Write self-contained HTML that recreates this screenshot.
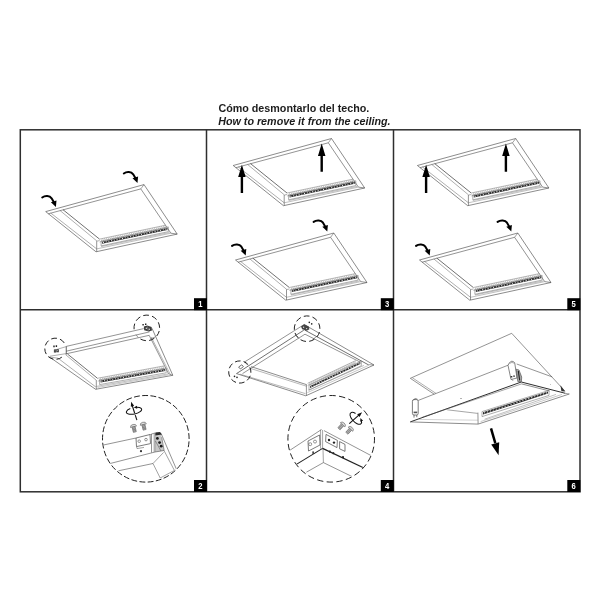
<!DOCTYPE html>
<html><head><meta charset="utf-8"><title>Cómo desmontarlo del techo</title>
<style>
html,body{margin:0;padding:0;background:#fff;}
body{width:600px;height:600px;overflow:hidden;position:relative;font-family:"Liberation Sans",sans-serif;}
svg{position:absolute;left:0;top:0;}
.t{font-family:"Liberation Sans",sans-serif;font-weight:bold;font-size:10.74px;fill:#1c1c1c;}
.n{font-family:"Liberation Sans",sans-serif;font-weight:bold;font-size:8.7px;fill:#fff;text-anchor:middle;}
</style></head><body>
<svg width="600" height="600" viewBox="0 0 600 600">
<defs><filter id="gs" x="-5%" y="-50%" width="110%" height="200%"><feOffset dx="0" dy="0"/></filter></defs>
<rect width="600" height="600" fill="#fff"/>
<g filter="url(#gs)"><text class="t" x="218.4" y="112.2">Cómo desmontarlo del techo.</text>
<text class="t" x="218.2" y="125.2" font-style="italic">How to remove it from the ceiling.</text></g>

<g stroke="#2e2e2e" stroke-width="1.5" fill="none">
<rect x="20.3" y="129.8" width="559.7" height="362"/>
<path d="M206.5,129.8V491.8M393.5,129.8V491.8M20.3,309.8H580"/>
</g>
<rect x="194" y="298.2" width="13" height="12" fill="#000"/>
<g filter="url(#gs)"><text class="n" transform="translate(200.4,307.3) scale(0.88,1)">1</text></g>
<rect x="380.8" y="298.2" width="13" height="12" fill="#000"/>
<g filter="url(#gs)"><text class="n" transform="translate(387.2,307.3) scale(0.88,1)">3</text></g>
<rect x="567.3" y="298.2" width="13" height="12" fill="#000"/>
<g filter="url(#gs)"><text class="n" transform="translate(573.6999999999999,307.3) scale(0.88,1)">5</text></g>
<rect x="194" y="480" width="13" height="12" fill="#000"/>
<g filter="url(#gs)"><text class="n" transform="translate(200.4,489.1) scale(0.88,1)">2</text></g>
<rect x="380.8" y="480" width="13" height="12" fill="#000"/>
<g filter="url(#gs)"><text class="n" transform="translate(387.2,489.1) scale(0.88,1)">4</text></g>
<rect x="567.3" y="480" width="13" height="12" fill="#000"/>
<g filter="url(#gs)"><text class="n" transform="translate(573.6999999999999,489.1) scale(0.88,1)">6</text></g>
<g transform="translate(45.7,211.6)">
<path d="M0.00,0.00 L98.30,-27.00 L131.50,22.50" fill="none" stroke="#505050" stroke-width="0.66" />
<path d="M0.00,0.00 L50.30,40.20" fill="none" stroke="#505050" stroke-width="0.66" />
<path d="M50.30,40.20 L131.50,22.50" fill="none" stroke="#505050" stroke-width="0.66" />
<path d="M2.60,2.20 L95.10,-22.70" fill="none" stroke="#505050" stroke-width="0.616" />
<path d="M98.30,-27.00 L95.10,-22.70" fill="none" stroke="#505050" stroke-width="0.528" />
<path d="M95.10,-22.70 L125.20,21.60 L131.50,22.50" fill="none" stroke="#505050" stroke-width="0.616" />
<path d="M5.00,1.40 L51.00,37.30" fill="none" stroke="#666" stroke-width="0.528" />
<path d="M51.00,37.30 L125.20,21.60" fill="none" stroke="#888" stroke-width="0.528" />
<path d="M14.30,-1.10 L51.30,29.50" fill="none" stroke="#666" stroke-width="0.528" />
<path d="M17.30,-1.90 L53.80,27.50" fill="none" stroke="#333" stroke-width="0.704" />
<path d="M51.00,29.50 L51.00,40.00" fill="none" stroke="#505050" stroke-width="0.616" />
<path d="M53.80,27.50 L119.90,13.60" fill="none" stroke="#777" stroke-width="0.528" />
<path d="M53.80,30.50 L119.90,16.60" fill="none" stroke="#888" stroke-width="0.484" />
<path d="M54.94,30.26 L56.92,26.84" fill="none" stroke="#999" stroke-width="0.528" />
<path d="M57.22,29.78 L59.20,26.36" fill="none" stroke="#999" stroke-width="0.528" />
<path d="M59.50,29.30 L61.48,25.88" fill="none" stroke="#999" stroke-width="0.528" />
<path d="M61.78,28.82 L63.76,25.41" fill="none" stroke="#999" stroke-width="0.528" />
<path d="M64.06,28.34 L66.04,24.93" fill="none" stroke="#999" stroke-width="0.528" />
<path d="M66.34,27.86 L68.32,24.45" fill="none" stroke="#999" stroke-width="0.528" />
<path d="M68.62,27.38 L70.60,23.97" fill="none" stroke="#999" stroke-width="0.528" />
<path d="M70.89,26.91 L72.88,23.49" fill="none" stroke="#999" stroke-width="0.528" />
<path d="M73.17,26.43 L75.16,23.01" fill="none" stroke="#999" stroke-width="0.528" />
<path d="M75.45,25.95 L77.44,22.53" fill="none" stroke="#999" stroke-width="0.528" />
<path d="M77.73,25.47 L79.72,22.05" fill="none" stroke="#999" stroke-width="0.528" />
<path d="M80.01,24.99 L82.00,21.57" fill="none" stroke="#999" stroke-width="0.528" />
<path d="M82.29,24.51 L84.27,21.09" fill="none" stroke="#999" stroke-width="0.528" />
<path d="M84.57,24.03 L86.55,20.61" fill="none" stroke="#999" stroke-width="0.528" />
<path d="M86.85,23.55 L88.83,20.13" fill="none" stroke="#999" stroke-width="0.528" />
<path d="M89.13,23.07 L91.11,19.65" fill="none" stroke="#999" stroke-width="0.528" />
<path d="M91.41,22.59 L93.39,19.17" fill="none" stroke="#999" stroke-width="0.528" />
<path d="M93.69,22.11 L95.67,18.70" fill="none" stroke="#999" stroke-width="0.528" />
<path d="M95.97,21.63 L97.95,18.22" fill="none" stroke="#999" stroke-width="0.528" />
<path d="M98.25,21.15 L100.23,17.74" fill="none" stroke="#999" stroke-width="0.528" />
<path d="M100.53,20.67 L102.51,17.26" fill="none" stroke="#999" stroke-width="0.528" />
<path d="M102.81,20.19 L104.79,16.78" fill="none" stroke="#999" stroke-width="0.528" />
<path d="M105.08,19.72 L107.07,16.30" fill="none" stroke="#999" stroke-width="0.528" />
<path d="M107.36,19.24 L109.35,15.82" fill="none" stroke="#999" stroke-width="0.528" />
<path d="M109.64,18.76 L111.63,15.34" fill="none" stroke="#999" stroke-width="0.528" />
<path d="M111.92,18.28 L113.91,14.86" fill="none" stroke="#999" stroke-width="0.528" />
<path d="M114.20,17.80 L116.18,14.38" fill="none" stroke="#999" stroke-width="0.528" />
<path d="M116.48,17.32 L118.46,13.90" fill="none" stroke="#999" stroke-width="0.528" />
<path d="M118.76,16.84 L119.90,13.60" fill="none" stroke="#999" stroke-width="0.528" />
<path d="M56.40,30.10 L121.60,16.30 L121.60,18.30 L56.40,32.10Z" fill="#2a2a2a" stroke="none" stroke-width="0"/>
<circle cx="57.76" cy="30.81" r="0.6" fill="#e8e8e8"/>
<circle cx="60.47" cy="30.24" r="0.6" fill="#e8e8e8"/>
<circle cx="63.19" cy="29.66" r="0.6" fill="#e8e8e8"/>
<circle cx="65.91" cy="29.09" r="0.6" fill="#e8e8e8"/>
<circle cx="68.62" cy="28.51" r="0.6" fill="#e8e8e8"/>
<circle cx="71.34" cy="27.94" r="0.6" fill="#e8e8e8"/>
<circle cx="74.06" cy="27.36" r="0.6" fill="#e8e8e8"/>
<circle cx="76.77" cy="26.79" r="0.6" fill="#e8e8e8"/>
<circle cx="79.49" cy="26.21" r="0.6" fill="#e8e8e8"/>
<circle cx="82.21" cy="25.64" r="0.6" fill="#e8e8e8"/>
<circle cx="84.92" cy="25.06" r="0.6" fill="#e8e8e8"/>
<circle cx="87.64" cy="24.49" r="0.6" fill="#e8e8e8"/>
<circle cx="90.36" cy="23.91" r="0.6" fill="#e8e8e8"/>
<circle cx="93.07" cy="23.34" r="0.6" fill="#e8e8e8"/>
<circle cx="95.79" cy="22.76" r="0.6" fill="#e8e8e8"/>
<circle cx="98.51" cy="22.19" r="0.6" fill="#e8e8e8"/>
<circle cx="101.22" cy="21.61" r="0.6" fill="#e8e8e8"/>
<circle cx="103.94" cy="21.04" r="0.6" fill="#e8e8e8"/>
<circle cx="106.66" cy="20.46" r="0.6" fill="#e8e8e8"/>
<circle cx="109.38" cy="19.89" r="0.6" fill="#e8e8e8"/>
<circle cx="112.09" cy="19.31" r="0.6" fill="#e8e8e8"/>
<circle cx="114.81" cy="18.74" r="0.6" fill="#e8e8e8"/>
<circle cx="117.52" cy="18.16" r="0.6" fill="#e8e8e8"/>
<circle cx="120.24" cy="17.59" r="0.6" fill="#e8e8e8"/>
<path d="M55.40,29.50 L122.60,15.30 L122.60,20.10 L55.40,34.30 L55.40,29.50" fill="none" stroke="#666" stroke-width="0.528" />
<path d="M51.30,29.50 L54.00,29.00" fill="none" stroke="#666" stroke-width="0.528" />
<path d="M55.50,35.00 L123.80,20.90" fill="none" stroke="#888" stroke-width="0.528" />
</g>
<g transform="translate(55.900000000000006,207.1)">
<path d="M-13.7,-9.6 C-10.8,-11.7 -6.2,-11.5 -4.3,-8.8 L-2.4,-5.6" fill="none" stroke="#000" stroke-width="2" stroke-linecap="round"/>
<path d="M0,0 L-5.0,-4.8 L0.6,-6.5Z" fill="#000"/>
</g>
<g transform="translate(137.5,183.1)">
<path d="M-13.7,-9.6 C-10.8,-11.7 -6.2,-11.5 -4.3,-8.8 L-2.4,-5.6" fill="none" stroke="#000" stroke-width="2" stroke-linecap="round"/>
<path d="M0,0 L-5.0,-4.8 L0.6,-6.5Z" fill="#000"/>
</g>
<g transform="translate(233.2,165.5)">
<path d="M0.00,0.00 L98.30,-27.00 L131.50,22.50" fill="none" stroke="#505050" stroke-width="0.66" />
<path d="M0.00,0.00 L50.30,40.20" fill="none" stroke="#505050" stroke-width="0.66" />
<path d="M50.30,40.20 L131.50,22.50" fill="none" stroke="#505050" stroke-width="0.66" />
<path d="M2.60,2.20 L95.10,-22.70" fill="none" stroke="#505050" stroke-width="0.616" />
<path d="M98.30,-27.00 L95.10,-22.70" fill="none" stroke="#505050" stroke-width="0.528" />
<path d="M95.10,-22.70 L125.20,21.60 L131.50,22.50" fill="none" stroke="#505050" stroke-width="0.616" />
<path d="M5.00,1.40 L51.00,37.30" fill="none" stroke="#666" stroke-width="0.528" />
<path d="M51.00,37.30 L125.20,21.60" fill="none" stroke="#888" stroke-width="0.528" />
<path d="M14.30,-1.10 L51.30,29.50" fill="none" stroke="#666" stroke-width="0.528" />
<path d="M17.30,-1.90 L53.80,27.50" fill="none" stroke="#333" stroke-width="0.704" />
<path d="M51.00,29.50 L51.00,40.00" fill="none" stroke="#505050" stroke-width="0.616" />
<path d="M53.80,27.50 L119.90,13.60" fill="none" stroke="#777" stroke-width="0.528" />
<path d="M53.80,30.50 L119.90,16.60" fill="none" stroke="#888" stroke-width="0.484" />
<path d="M54.94,30.26 L56.92,26.84" fill="none" stroke="#999" stroke-width="0.528" />
<path d="M57.22,29.78 L59.20,26.36" fill="none" stroke="#999" stroke-width="0.528" />
<path d="M59.50,29.30 L61.48,25.88" fill="none" stroke="#999" stroke-width="0.528" />
<path d="M61.78,28.82 L63.76,25.41" fill="none" stroke="#999" stroke-width="0.528" />
<path d="M64.06,28.34 L66.04,24.93" fill="none" stroke="#999" stroke-width="0.528" />
<path d="M66.34,27.86 L68.32,24.45" fill="none" stroke="#999" stroke-width="0.528" />
<path d="M68.62,27.38 L70.60,23.97" fill="none" stroke="#999" stroke-width="0.528" />
<path d="M70.89,26.91 L72.88,23.49" fill="none" stroke="#999" stroke-width="0.528" />
<path d="M73.17,26.43 L75.16,23.01" fill="none" stroke="#999" stroke-width="0.528" />
<path d="M75.45,25.95 L77.44,22.53" fill="none" stroke="#999" stroke-width="0.528" />
<path d="M77.73,25.47 L79.72,22.05" fill="none" stroke="#999" stroke-width="0.528" />
<path d="M80.01,24.99 L82.00,21.57" fill="none" stroke="#999" stroke-width="0.528" />
<path d="M82.29,24.51 L84.27,21.09" fill="none" stroke="#999" stroke-width="0.528" />
<path d="M84.57,24.03 L86.55,20.61" fill="none" stroke="#999" stroke-width="0.528" />
<path d="M86.85,23.55 L88.83,20.13" fill="none" stroke="#999" stroke-width="0.528" />
<path d="M89.13,23.07 L91.11,19.65" fill="none" stroke="#999" stroke-width="0.528" />
<path d="M91.41,22.59 L93.39,19.17" fill="none" stroke="#999" stroke-width="0.528" />
<path d="M93.69,22.11 L95.67,18.70" fill="none" stroke="#999" stroke-width="0.528" />
<path d="M95.97,21.63 L97.95,18.22" fill="none" stroke="#999" stroke-width="0.528" />
<path d="M98.25,21.15 L100.23,17.74" fill="none" stroke="#999" stroke-width="0.528" />
<path d="M100.53,20.67 L102.51,17.26" fill="none" stroke="#999" stroke-width="0.528" />
<path d="M102.81,20.19 L104.79,16.78" fill="none" stroke="#999" stroke-width="0.528" />
<path d="M105.08,19.72 L107.07,16.30" fill="none" stroke="#999" stroke-width="0.528" />
<path d="M107.36,19.24 L109.35,15.82" fill="none" stroke="#999" stroke-width="0.528" />
<path d="M109.64,18.76 L111.63,15.34" fill="none" stroke="#999" stroke-width="0.528" />
<path d="M111.92,18.28 L113.91,14.86" fill="none" stroke="#999" stroke-width="0.528" />
<path d="M114.20,17.80 L116.18,14.38" fill="none" stroke="#999" stroke-width="0.528" />
<path d="M116.48,17.32 L118.46,13.90" fill="none" stroke="#999" stroke-width="0.528" />
<path d="M118.76,16.84 L119.90,13.60" fill="none" stroke="#999" stroke-width="0.528" />
<path d="M56.40,30.10 L121.60,16.30 L121.60,18.30 L56.40,32.10Z" fill="#2a2a2a" stroke="none" stroke-width="0"/>
<circle cx="57.76" cy="30.81" r="0.6" fill="#e8e8e8"/>
<circle cx="60.47" cy="30.24" r="0.6" fill="#e8e8e8"/>
<circle cx="63.19" cy="29.66" r="0.6" fill="#e8e8e8"/>
<circle cx="65.91" cy="29.09" r="0.6" fill="#e8e8e8"/>
<circle cx="68.62" cy="28.51" r="0.6" fill="#e8e8e8"/>
<circle cx="71.34" cy="27.94" r="0.6" fill="#e8e8e8"/>
<circle cx="74.06" cy="27.36" r="0.6" fill="#e8e8e8"/>
<circle cx="76.77" cy="26.79" r="0.6" fill="#e8e8e8"/>
<circle cx="79.49" cy="26.21" r="0.6" fill="#e8e8e8"/>
<circle cx="82.21" cy="25.64" r="0.6" fill="#e8e8e8"/>
<circle cx="84.92" cy="25.06" r="0.6" fill="#e8e8e8"/>
<circle cx="87.64" cy="24.49" r="0.6" fill="#e8e8e8"/>
<circle cx="90.36" cy="23.91" r="0.6" fill="#e8e8e8"/>
<circle cx="93.07" cy="23.34" r="0.6" fill="#e8e8e8"/>
<circle cx="95.79" cy="22.76" r="0.6" fill="#e8e8e8"/>
<circle cx="98.51" cy="22.19" r="0.6" fill="#e8e8e8"/>
<circle cx="101.22" cy="21.61" r="0.6" fill="#e8e8e8"/>
<circle cx="103.94" cy="21.04" r="0.6" fill="#e8e8e8"/>
<circle cx="106.66" cy="20.46" r="0.6" fill="#e8e8e8"/>
<circle cx="109.38" cy="19.89" r="0.6" fill="#e8e8e8"/>
<circle cx="112.09" cy="19.31" r="0.6" fill="#e8e8e8"/>
<circle cx="114.81" cy="18.74" r="0.6" fill="#e8e8e8"/>
<circle cx="117.52" cy="18.16" r="0.6" fill="#e8e8e8"/>
<circle cx="120.24" cy="17.59" r="0.6" fill="#e8e8e8"/>
<path d="M55.40,29.50 L122.60,15.30 L122.60,20.10 L55.40,34.30 L55.40,29.50" fill="none" stroke="#666" stroke-width="0.528" />
<path d="M51.30,29.50 L54.00,29.00" fill="none" stroke="#666" stroke-width="0.528" />
<path d="M55.50,35.00 L123.80,20.90" fill="none" stroke="#888" stroke-width="0.528" />
</g>
<path d="M241.89999999999998,164.7 L245.64999999999998,177.1 L243.09999999999997,177.1 L243.09999999999997,192.9 L240.7,192.9 L240.7,177.1 L238.14999999999998,177.1Z" fill="#000"/>
<path d="M321.7,143.6 L325.45,156.0 L322.9,156.0 L322.9,171.8 L320.5,171.8 L320.5,156.0 L317.95,156.0Z" fill="#000"/>
<g transform="translate(235.5,260)">
<path d="M0.00,0.00 L98.30,-27.00 L131.50,22.50" fill="none" stroke="#505050" stroke-width="0.66" />
<path d="M0.00,0.00 L50.30,40.20" fill="none" stroke="#505050" stroke-width="0.66" />
<path d="M50.30,40.20 L131.50,22.50" fill="none" stroke="#505050" stroke-width="0.66" />
<path d="M2.60,2.20 L95.10,-22.70" fill="none" stroke="#505050" stroke-width="0.616" />
<path d="M98.30,-27.00 L95.10,-22.70" fill="none" stroke="#505050" stroke-width="0.528" />
<path d="M95.10,-22.70 L125.20,21.60 L131.50,22.50" fill="none" stroke="#505050" stroke-width="0.616" />
<path d="M5.00,1.40 L51.00,37.30" fill="none" stroke="#666" stroke-width="0.528" />
<path d="M51.00,37.30 L125.20,21.60" fill="none" stroke="#888" stroke-width="0.528" />
<path d="M14.30,-1.10 L51.30,29.50" fill="none" stroke="#666" stroke-width="0.528" />
<path d="M17.30,-1.90 L53.80,27.50" fill="none" stroke="#333" stroke-width="0.704" />
<path d="M51.00,29.50 L51.00,40.00" fill="none" stroke="#505050" stroke-width="0.616" />
<path d="M53.80,27.50 L119.90,13.60" fill="none" stroke="#777" stroke-width="0.528" />
<path d="M53.80,30.50 L119.90,16.60" fill="none" stroke="#888" stroke-width="0.484" />
<path d="M54.94,30.26 L56.92,26.84" fill="none" stroke="#999" stroke-width="0.528" />
<path d="M57.22,29.78 L59.20,26.36" fill="none" stroke="#999" stroke-width="0.528" />
<path d="M59.50,29.30 L61.48,25.88" fill="none" stroke="#999" stroke-width="0.528" />
<path d="M61.78,28.82 L63.76,25.41" fill="none" stroke="#999" stroke-width="0.528" />
<path d="M64.06,28.34 L66.04,24.93" fill="none" stroke="#999" stroke-width="0.528" />
<path d="M66.34,27.86 L68.32,24.45" fill="none" stroke="#999" stroke-width="0.528" />
<path d="M68.62,27.38 L70.60,23.97" fill="none" stroke="#999" stroke-width="0.528" />
<path d="M70.89,26.91 L72.88,23.49" fill="none" stroke="#999" stroke-width="0.528" />
<path d="M73.17,26.43 L75.16,23.01" fill="none" stroke="#999" stroke-width="0.528" />
<path d="M75.45,25.95 L77.44,22.53" fill="none" stroke="#999" stroke-width="0.528" />
<path d="M77.73,25.47 L79.72,22.05" fill="none" stroke="#999" stroke-width="0.528" />
<path d="M80.01,24.99 L82.00,21.57" fill="none" stroke="#999" stroke-width="0.528" />
<path d="M82.29,24.51 L84.27,21.09" fill="none" stroke="#999" stroke-width="0.528" />
<path d="M84.57,24.03 L86.55,20.61" fill="none" stroke="#999" stroke-width="0.528" />
<path d="M86.85,23.55 L88.83,20.13" fill="none" stroke="#999" stroke-width="0.528" />
<path d="M89.13,23.07 L91.11,19.65" fill="none" stroke="#999" stroke-width="0.528" />
<path d="M91.41,22.59 L93.39,19.17" fill="none" stroke="#999" stroke-width="0.528" />
<path d="M93.69,22.11 L95.67,18.70" fill="none" stroke="#999" stroke-width="0.528" />
<path d="M95.97,21.63 L97.95,18.22" fill="none" stroke="#999" stroke-width="0.528" />
<path d="M98.25,21.15 L100.23,17.74" fill="none" stroke="#999" stroke-width="0.528" />
<path d="M100.53,20.67 L102.51,17.26" fill="none" stroke="#999" stroke-width="0.528" />
<path d="M102.81,20.19 L104.79,16.78" fill="none" stroke="#999" stroke-width="0.528" />
<path d="M105.08,19.72 L107.07,16.30" fill="none" stroke="#999" stroke-width="0.528" />
<path d="M107.36,19.24 L109.35,15.82" fill="none" stroke="#999" stroke-width="0.528" />
<path d="M109.64,18.76 L111.63,15.34" fill="none" stroke="#999" stroke-width="0.528" />
<path d="M111.92,18.28 L113.91,14.86" fill="none" stroke="#999" stroke-width="0.528" />
<path d="M114.20,17.80 L116.18,14.38" fill="none" stroke="#999" stroke-width="0.528" />
<path d="M116.48,17.32 L118.46,13.90" fill="none" stroke="#999" stroke-width="0.528" />
<path d="M118.76,16.84 L119.90,13.60" fill="none" stroke="#999" stroke-width="0.528" />
<path d="M56.40,30.10 L121.60,16.30 L121.60,18.30 L56.40,32.10Z" fill="#2a2a2a" stroke="none" stroke-width="0"/>
<circle cx="57.76" cy="30.81" r="0.6" fill="#e8e8e8"/>
<circle cx="60.47" cy="30.24" r="0.6" fill="#e8e8e8"/>
<circle cx="63.19" cy="29.66" r="0.6" fill="#e8e8e8"/>
<circle cx="65.91" cy="29.09" r="0.6" fill="#e8e8e8"/>
<circle cx="68.62" cy="28.51" r="0.6" fill="#e8e8e8"/>
<circle cx="71.34" cy="27.94" r="0.6" fill="#e8e8e8"/>
<circle cx="74.06" cy="27.36" r="0.6" fill="#e8e8e8"/>
<circle cx="76.77" cy="26.79" r="0.6" fill="#e8e8e8"/>
<circle cx="79.49" cy="26.21" r="0.6" fill="#e8e8e8"/>
<circle cx="82.21" cy="25.64" r="0.6" fill="#e8e8e8"/>
<circle cx="84.92" cy="25.06" r="0.6" fill="#e8e8e8"/>
<circle cx="87.64" cy="24.49" r="0.6" fill="#e8e8e8"/>
<circle cx="90.36" cy="23.91" r="0.6" fill="#e8e8e8"/>
<circle cx="93.07" cy="23.34" r="0.6" fill="#e8e8e8"/>
<circle cx="95.79" cy="22.76" r="0.6" fill="#e8e8e8"/>
<circle cx="98.51" cy="22.19" r="0.6" fill="#e8e8e8"/>
<circle cx="101.22" cy="21.61" r="0.6" fill="#e8e8e8"/>
<circle cx="103.94" cy="21.04" r="0.6" fill="#e8e8e8"/>
<circle cx="106.66" cy="20.46" r="0.6" fill="#e8e8e8"/>
<circle cx="109.38" cy="19.89" r="0.6" fill="#e8e8e8"/>
<circle cx="112.09" cy="19.31" r="0.6" fill="#e8e8e8"/>
<circle cx="114.81" cy="18.74" r="0.6" fill="#e8e8e8"/>
<circle cx="117.52" cy="18.16" r="0.6" fill="#e8e8e8"/>
<circle cx="120.24" cy="17.59" r="0.6" fill="#e8e8e8"/>
<path d="M55.40,29.50 L122.60,15.30 L122.60,20.10 L55.40,34.30 L55.40,29.50" fill="none" stroke="#666" stroke-width="0.528" />
<path d="M51.30,29.50 L54.00,29.00" fill="none" stroke="#666" stroke-width="0.528" />
<path d="M55.50,35.00 L123.80,20.90" fill="none" stroke="#888" stroke-width="0.528" />
</g>
<g transform="translate(245.7,255.5)">
<path d="M-13.7,-9.6 C-10.8,-11.7 -6.2,-11.5 -4.3,-8.8 L-2.4,-5.6" fill="none" stroke="#000" stroke-width="2" stroke-linecap="round"/>
<path d="M0,0 L-5.0,-4.8 L0.6,-6.5Z" fill="#000"/>
</g>
<g transform="translate(327.3,231.5)">
<path d="M-13.7,-9.6 C-10.8,-11.7 -6.2,-11.5 -4.3,-8.8 L-2.4,-5.6" fill="none" stroke="#000" stroke-width="2" stroke-linecap="round"/>
<path d="M0,0 L-5.0,-4.8 L0.6,-6.5Z" fill="#000"/>
</g>
<g transform="translate(417.4,165.5)">
<path d="M0.00,0.00 L98.30,-27.00 L131.50,22.50" fill="none" stroke="#505050" stroke-width="0.66" />
<path d="M0.00,0.00 L50.30,40.20" fill="none" stroke="#505050" stroke-width="0.66" />
<path d="M50.30,40.20 L131.50,22.50" fill="none" stroke="#505050" stroke-width="0.66" />
<path d="M2.60,2.20 L95.10,-22.70" fill="none" stroke="#505050" stroke-width="0.616" />
<path d="M98.30,-27.00 L95.10,-22.70" fill="none" stroke="#505050" stroke-width="0.528" />
<path d="M95.10,-22.70 L125.20,21.60 L131.50,22.50" fill="none" stroke="#505050" stroke-width="0.616" />
<path d="M5.00,1.40 L51.00,37.30" fill="none" stroke="#666" stroke-width="0.528" />
<path d="M51.00,37.30 L125.20,21.60" fill="none" stroke="#888" stroke-width="0.528" />
<path d="M14.30,-1.10 L51.30,29.50" fill="none" stroke="#666" stroke-width="0.528" />
<path d="M17.30,-1.90 L53.80,27.50" fill="none" stroke="#333" stroke-width="0.704" />
<path d="M51.00,29.50 L51.00,40.00" fill="none" stroke="#505050" stroke-width="0.616" />
<path d="M53.80,27.50 L119.90,13.60" fill="none" stroke="#777" stroke-width="0.528" />
<path d="M53.80,30.50 L119.90,16.60" fill="none" stroke="#888" stroke-width="0.484" />
<path d="M54.94,30.26 L56.92,26.84" fill="none" stroke="#999" stroke-width="0.528" />
<path d="M57.22,29.78 L59.20,26.36" fill="none" stroke="#999" stroke-width="0.528" />
<path d="M59.50,29.30 L61.48,25.88" fill="none" stroke="#999" stroke-width="0.528" />
<path d="M61.78,28.82 L63.76,25.41" fill="none" stroke="#999" stroke-width="0.528" />
<path d="M64.06,28.34 L66.04,24.93" fill="none" stroke="#999" stroke-width="0.528" />
<path d="M66.34,27.86 L68.32,24.45" fill="none" stroke="#999" stroke-width="0.528" />
<path d="M68.62,27.38 L70.60,23.97" fill="none" stroke="#999" stroke-width="0.528" />
<path d="M70.89,26.91 L72.88,23.49" fill="none" stroke="#999" stroke-width="0.528" />
<path d="M73.17,26.43 L75.16,23.01" fill="none" stroke="#999" stroke-width="0.528" />
<path d="M75.45,25.95 L77.44,22.53" fill="none" stroke="#999" stroke-width="0.528" />
<path d="M77.73,25.47 L79.72,22.05" fill="none" stroke="#999" stroke-width="0.528" />
<path d="M80.01,24.99 L82.00,21.57" fill="none" stroke="#999" stroke-width="0.528" />
<path d="M82.29,24.51 L84.27,21.09" fill="none" stroke="#999" stroke-width="0.528" />
<path d="M84.57,24.03 L86.55,20.61" fill="none" stroke="#999" stroke-width="0.528" />
<path d="M86.85,23.55 L88.83,20.13" fill="none" stroke="#999" stroke-width="0.528" />
<path d="M89.13,23.07 L91.11,19.65" fill="none" stroke="#999" stroke-width="0.528" />
<path d="M91.41,22.59 L93.39,19.17" fill="none" stroke="#999" stroke-width="0.528" />
<path d="M93.69,22.11 L95.67,18.70" fill="none" stroke="#999" stroke-width="0.528" />
<path d="M95.97,21.63 L97.95,18.22" fill="none" stroke="#999" stroke-width="0.528" />
<path d="M98.25,21.15 L100.23,17.74" fill="none" stroke="#999" stroke-width="0.528" />
<path d="M100.53,20.67 L102.51,17.26" fill="none" stroke="#999" stroke-width="0.528" />
<path d="M102.81,20.19 L104.79,16.78" fill="none" stroke="#999" stroke-width="0.528" />
<path d="M105.08,19.72 L107.07,16.30" fill="none" stroke="#999" stroke-width="0.528" />
<path d="M107.36,19.24 L109.35,15.82" fill="none" stroke="#999" stroke-width="0.528" />
<path d="M109.64,18.76 L111.63,15.34" fill="none" stroke="#999" stroke-width="0.528" />
<path d="M111.92,18.28 L113.91,14.86" fill="none" stroke="#999" stroke-width="0.528" />
<path d="M114.20,17.80 L116.18,14.38" fill="none" stroke="#999" stroke-width="0.528" />
<path d="M116.48,17.32 L118.46,13.90" fill="none" stroke="#999" stroke-width="0.528" />
<path d="M118.76,16.84 L119.90,13.60" fill="none" stroke="#999" stroke-width="0.528" />
<path d="M56.40,30.10 L121.60,16.30 L121.60,18.30 L56.40,32.10Z" fill="#2a2a2a" stroke="none" stroke-width="0"/>
<circle cx="57.76" cy="30.81" r="0.6" fill="#e8e8e8"/>
<circle cx="60.47" cy="30.24" r="0.6" fill="#e8e8e8"/>
<circle cx="63.19" cy="29.66" r="0.6" fill="#e8e8e8"/>
<circle cx="65.91" cy="29.09" r="0.6" fill="#e8e8e8"/>
<circle cx="68.62" cy="28.51" r="0.6" fill="#e8e8e8"/>
<circle cx="71.34" cy="27.94" r="0.6" fill="#e8e8e8"/>
<circle cx="74.06" cy="27.36" r="0.6" fill="#e8e8e8"/>
<circle cx="76.77" cy="26.79" r="0.6" fill="#e8e8e8"/>
<circle cx="79.49" cy="26.21" r="0.6" fill="#e8e8e8"/>
<circle cx="82.21" cy="25.64" r="0.6" fill="#e8e8e8"/>
<circle cx="84.92" cy="25.06" r="0.6" fill="#e8e8e8"/>
<circle cx="87.64" cy="24.49" r="0.6" fill="#e8e8e8"/>
<circle cx="90.36" cy="23.91" r="0.6" fill="#e8e8e8"/>
<circle cx="93.07" cy="23.34" r="0.6" fill="#e8e8e8"/>
<circle cx="95.79" cy="22.76" r="0.6" fill="#e8e8e8"/>
<circle cx="98.51" cy="22.19" r="0.6" fill="#e8e8e8"/>
<circle cx="101.22" cy="21.61" r="0.6" fill="#e8e8e8"/>
<circle cx="103.94" cy="21.04" r="0.6" fill="#e8e8e8"/>
<circle cx="106.66" cy="20.46" r="0.6" fill="#e8e8e8"/>
<circle cx="109.38" cy="19.89" r="0.6" fill="#e8e8e8"/>
<circle cx="112.09" cy="19.31" r="0.6" fill="#e8e8e8"/>
<circle cx="114.81" cy="18.74" r="0.6" fill="#e8e8e8"/>
<circle cx="117.52" cy="18.16" r="0.6" fill="#e8e8e8"/>
<circle cx="120.24" cy="17.59" r="0.6" fill="#e8e8e8"/>
<path d="M55.40,29.50 L122.60,15.30 L122.60,20.10 L55.40,34.30 L55.40,29.50" fill="none" stroke="#666" stroke-width="0.528" />
<path d="M51.30,29.50 L54.00,29.00" fill="none" stroke="#666" stroke-width="0.528" />
<path d="M55.50,35.00 L123.80,20.90" fill="none" stroke="#888" stroke-width="0.528" />
</g>
<path d="M426.09999999999997,164.7 L429.84999999999997,177.1 L427.29999999999995,177.1 L427.29999999999995,192.9 L424.9,192.9 L424.9,177.1 L422.34999999999997,177.1Z" fill="#000"/>
<path d="M505.9,143.6 L509.65,156.0 L507.09999999999997,156.0 L507.09999999999997,171.8 L504.7,171.8 L504.7,156.0 L502.15,156.0Z" fill="#000"/>
<g transform="translate(419.5,260)">
<path d="M0.00,0.00 L98.30,-27.00 L131.50,22.50" fill="none" stroke="#505050" stroke-width="0.66" />
<path d="M0.00,0.00 L50.30,40.20" fill="none" stroke="#505050" stroke-width="0.66" />
<path d="M50.30,40.20 L131.50,22.50" fill="none" stroke="#505050" stroke-width="0.66" />
<path d="M2.60,2.20 L95.10,-22.70" fill="none" stroke="#505050" stroke-width="0.616" />
<path d="M98.30,-27.00 L95.10,-22.70" fill="none" stroke="#505050" stroke-width="0.528" />
<path d="M95.10,-22.70 L125.20,21.60 L131.50,22.50" fill="none" stroke="#505050" stroke-width="0.616" />
<path d="M5.00,1.40 L51.00,37.30" fill="none" stroke="#666" stroke-width="0.528" />
<path d="M51.00,37.30 L125.20,21.60" fill="none" stroke="#888" stroke-width="0.528" />
<path d="M14.30,-1.10 L51.30,29.50" fill="none" stroke="#666" stroke-width="0.528" />
<path d="M17.30,-1.90 L53.80,27.50" fill="none" stroke="#333" stroke-width="0.704" />
<path d="M51.00,29.50 L51.00,40.00" fill="none" stroke="#505050" stroke-width="0.616" />
<path d="M53.80,27.50 L119.90,13.60" fill="none" stroke="#777" stroke-width="0.528" />
<path d="M53.80,30.50 L119.90,16.60" fill="none" stroke="#888" stroke-width="0.484" />
<path d="M54.94,30.26 L56.92,26.84" fill="none" stroke="#999" stroke-width="0.528" />
<path d="M57.22,29.78 L59.20,26.36" fill="none" stroke="#999" stroke-width="0.528" />
<path d="M59.50,29.30 L61.48,25.88" fill="none" stroke="#999" stroke-width="0.528" />
<path d="M61.78,28.82 L63.76,25.41" fill="none" stroke="#999" stroke-width="0.528" />
<path d="M64.06,28.34 L66.04,24.93" fill="none" stroke="#999" stroke-width="0.528" />
<path d="M66.34,27.86 L68.32,24.45" fill="none" stroke="#999" stroke-width="0.528" />
<path d="M68.62,27.38 L70.60,23.97" fill="none" stroke="#999" stroke-width="0.528" />
<path d="M70.89,26.91 L72.88,23.49" fill="none" stroke="#999" stroke-width="0.528" />
<path d="M73.17,26.43 L75.16,23.01" fill="none" stroke="#999" stroke-width="0.528" />
<path d="M75.45,25.95 L77.44,22.53" fill="none" stroke="#999" stroke-width="0.528" />
<path d="M77.73,25.47 L79.72,22.05" fill="none" stroke="#999" stroke-width="0.528" />
<path d="M80.01,24.99 L82.00,21.57" fill="none" stroke="#999" stroke-width="0.528" />
<path d="M82.29,24.51 L84.27,21.09" fill="none" stroke="#999" stroke-width="0.528" />
<path d="M84.57,24.03 L86.55,20.61" fill="none" stroke="#999" stroke-width="0.528" />
<path d="M86.85,23.55 L88.83,20.13" fill="none" stroke="#999" stroke-width="0.528" />
<path d="M89.13,23.07 L91.11,19.65" fill="none" stroke="#999" stroke-width="0.528" />
<path d="M91.41,22.59 L93.39,19.17" fill="none" stroke="#999" stroke-width="0.528" />
<path d="M93.69,22.11 L95.67,18.70" fill="none" stroke="#999" stroke-width="0.528" />
<path d="M95.97,21.63 L97.95,18.22" fill="none" stroke="#999" stroke-width="0.528" />
<path d="M98.25,21.15 L100.23,17.74" fill="none" stroke="#999" stroke-width="0.528" />
<path d="M100.53,20.67 L102.51,17.26" fill="none" stroke="#999" stroke-width="0.528" />
<path d="M102.81,20.19 L104.79,16.78" fill="none" stroke="#999" stroke-width="0.528" />
<path d="M105.08,19.72 L107.07,16.30" fill="none" stroke="#999" stroke-width="0.528" />
<path d="M107.36,19.24 L109.35,15.82" fill="none" stroke="#999" stroke-width="0.528" />
<path d="M109.64,18.76 L111.63,15.34" fill="none" stroke="#999" stroke-width="0.528" />
<path d="M111.92,18.28 L113.91,14.86" fill="none" stroke="#999" stroke-width="0.528" />
<path d="M114.20,17.80 L116.18,14.38" fill="none" stroke="#999" stroke-width="0.528" />
<path d="M116.48,17.32 L118.46,13.90" fill="none" stroke="#999" stroke-width="0.528" />
<path d="M118.76,16.84 L119.90,13.60" fill="none" stroke="#999" stroke-width="0.528" />
<path d="M56.40,30.10 L121.60,16.30 L121.60,18.30 L56.40,32.10Z" fill="#2a2a2a" stroke="none" stroke-width="0"/>
<circle cx="57.76" cy="30.81" r="0.6" fill="#e8e8e8"/>
<circle cx="60.47" cy="30.24" r="0.6" fill="#e8e8e8"/>
<circle cx="63.19" cy="29.66" r="0.6" fill="#e8e8e8"/>
<circle cx="65.91" cy="29.09" r="0.6" fill="#e8e8e8"/>
<circle cx="68.62" cy="28.51" r="0.6" fill="#e8e8e8"/>
<circle cx="71.34" cy="27.94" r="0.6" fill="#e8e8e8"/>
<circle cx="74.06" cy="27.36" r="0.6" fill="#e8e8e8"/>
<circle cx="76.77" cy="26.79" r="0.6" fill="#e8e8e8"/>
<circle cx="79.49" cy="26.21" r="0.6" fill="#e8e8e8"/>
<circle cx="82.21" cy="25.64" r="0.6" fill="#e8e8e8"/>
<circle cx="84.92" cy="25.06" r="0.6" fill="#e8e8e8"/>
<circle cx="87.64" cy="24.49" r="0.6" fill="#e8e8e8"/>
<circle cx="90.36" cy="23.91" r="0.6" fill="#e8e8e8"/>
<circle cx="93.07" cy="23.34" r="0.6" fill="#e8e8e8"/>
<circle cx="95.79" cy="22.76" r="0.6" fill="#e8e8e8"/>
<circle cx="98.51" cy="22.19" r="0.6" fill="#e8e8e8"/>
<circle cx="101.22" cy="21.61" r="0.6" fill="#e8e8e8"/>
<circle cx="103.94" cy="21.04" r="0.6" fill="#e8e8e8"/>
<circle cx="106.66" cy="20.46" r="0.6" fill="#e8e8e8"/>
<circle cx="109.38" cy="19.89" r="0.6" fill="#e8e8e8"/>
<circle cx="112.09" cy="19.31" r="0.6" fill="#e8e8e8"/>
<circle cx="114.81" cy="18.74" r="0.6" fill="#e8e8e8"/>
<circle cx="117.52" cy="18.16" r="0.6" fill="#e8e8e8"/>
<circle cx="120.24" cy="17.59" r="0.6" fill="#e8e8e8"/>
<path d="M55.40,29.50 L122.60,15.30 L122.60,20.10 L55.40,34.30 L55.40,29.50" fill="none" stroke="#666" stroke-width="0.528" />
<path d="M51.30,29.50 L54.00,29.00" fill="none" stroke="#666" stroke-width="0.528" />
<path d="M55.50,35.00 L123.80,20.90" fill="none" stroke="#888" stroke-width="0.528" />
</g>
<g transform="translate(429.7,255.5)">
<path d="M-13.7,-9.6 C-10.8,-11.7 -6.2,-11.5 -4.3,-8.8 L-2.4,-5.6" fill="none" stroke="#000" stroke-width="2" stroke-linecap="round"/>
<path d="M0,0 L-5.0,-4.8 L0.6,-6.5Z" fill="#000"/>
</g>
<g transform="translate(511.3,231.5)">
<path d="M-13.7,-9.6 C-10.8,-11.7 -6.2,-11.5 -4.3,-8.8 L-2.4,-5.6" fill="none" stroke="#000" stroke-width="2" stroke-linecap="round"/>
<path d="M0,0 L-5.0,-4.8 L0.6,-6.5Z" fill="#000"/>
</g>
<path d="M49.50,357.00 L95.60,389.30" fill="none" stroke="#505050" stroke-width="0.66" />
<path d="M95.60,389.30 L172.80,375.30" fill="none" stroke="#505050" stroke-width="0.66" />
<path d="M152.00,328.30 L172.80,375.30" fill="none" stroke="#505050" stroke-width="0.66" />
<path d="M66.25,346.40 L143.70,328.60" fill="none" stroke="#505050" stroke-width="0.616" />
<path d="M66.25,351.20 L149.50,331.90" fill="none" stroke="#505050" stroke-width="0.616" />
<path d="M66.25,353.80 L149.30,335.30" fill="none" stroke="#505050" stroke-width="0.616" />
<path d="M66.25,346.40 L66.25,354.40" fill="none" stroke="#222" stroke-width="0.704" />
<path d="M66.25,346.60 L54.20,350.20" fill="none" stroke="#666" stroke-width="0.528" />
<path d="M66.25,353.60 L50.00,356.20" fill="none" stroke="#666" stroke-width="0.528" />
<path d="M49.50,357.00 L58.00,358.20" fill="none" stroke="#666" stroke-width="0.528" />
<path d="M53.3,345.5h1.4v1.7h-1.4zM55.7,345.3h1.4v1.7h-1.4z" fill="#222"/><path d="M53.9,349.5h2.3v3h-2.3zM56.5,349.2h2.3v3h-2.3z" fill="#333"/><path d="M54.7,350.3h0.7v1.3h-0.7zM57.3,350h0.7v1.3h-0.7z" fill="#bbb"/>
<path d="M58.00,358.20 L95.30,386.60" fill="none" stroke="#666" stroke-width="0.528" />
<path d="M65.50,354.60 L96.00,380.00" fill="none" stroke="#666" stroke-width="0.528" />
<path d="M67.50,354.00 L97.60,378.40" fill="none" stroke="#333" stroke-width="0.704" />
<path d="M96.30,380.00 L96.30,389.20" fill="none" stroke="#505050" stroke-width="0.616" />
<path d="M151.20,337.00 L170.50,374.80" fill="none" stroke="#777" stroke-width="0.528" />
<path d="M149.20,335.40 L168.60,373.80" fill="none" stroke="#505050" stroke-width="0.616" />
<path d="M168.60,373.80 L172.80,375.30" fill="none" stroke="#505050" stroke-width="0.528" />
<path d="M95.30,386.60 L168.60,373.80" fill="none" stroke="#888" stroke-width="0.528" />
<path d="M143.8,326.6 L147.2,325.4 L151.6,327 L152,330.4 L148.8,331.6 L144.2,330.2Z" fill="#3a3a3a"/>
<circle cx="146.3" cy="328.3" r="0.75" fill="#ddd"/><circle cx="149.3" cy="329.2" r="0.7" fill="#ddd"/><path d="M147.6,326.4 l0.6,4.6" stroke="#bbb" stroke-width="0.5"/>
<path d="M142.4,323.9h1.4v1.6h-1.4zM145,323.5h1.4v1.6h-1.4z" fill="#222"/>
<path d="M136.00,334.60 L138.20,337.60" fill="none" stroke="#444" stroke-width="0.528" />
<path d="M150.60,338.80 L155.60,336.80" fill="none" stroke="#444" stroke-width="0.528" />
<path d="M97.80,378.20 L164.00,365.90" fill="none" stroke="#777" stroke-width="0.528" />
<path d="M97.80,381.20 L164.00,368.90" fill="none" stroke="#888" stroke-width="0.484" />
<path d="M98.94,380.99 L100.93,377.62" fill="none" stroke="#999" stroke-width="0.528" />
<path d="M101.22,380.56 L103.21,377.19" fill="none" stroke="#999" stroke-width="0.528" />
<path d="M103.51,380.14 L105.49,376.77" fill="none" stroke="#999" stroke-width="0.528" />
<path d="M105.79,379.72 L107.78,376.35" fill="none" stroke="#999" stroke-width="0.528" />
<path d="M108.07,379.29 L110.06,375.92" fill="none" stroke="#999" stroke-width="0.528" />
<path d="M110.36,378.87 L112.34,375.50" fill="none" stroke="#999" stroke-width="0.528" />
<path d="M112.64,378.44 L114.62,375.07" fill="none" stroke="#999" stroke-width="0.528" />
<path d="M114.92,378.02 L116.91,374.65" fill="none" stroke="#999" stroke-width="0.528" />
<path d="M117.20,377.59 L119.19,374.23" fill="none" stroke="#999" stroke-width="0.528" />
<path d="M119.49,377.17 L121.47,373.80" fill="none" stroke="#999" stroke-width="0.528" />
<path d="M121.77,376.75 L123.75,373.38" fill="none" stroke="#999" stroke-width="0.528" />
<path d="M124.05,376.32 L126.04,372.95" fill="none" stroke="#999" stroke-width="0.528" />
<path d="M126.33,375.90 L128.32,372.53" fill="none" stroke="#999" stroke-width="0.528" />
<path d="M128.62,375.47 L130.60,372.11" fill="none" stroke="#999" stroke-width="0.528" />
<path d="M130.90,375.05 L132.89,371.68" fill="none" stroke="#999" stroke-width="0.528" />
<path d="M133.18,374.63 L135.17,371.26" fill="none" stroke="#999" stroke-width="0.528" />
<path d="M135.47,374.20 L137.45,370.83" fill="none" stroke="#999" stroke-width="0.528" />
<path d="M137.75,373.78 L139.73,370.41" fill="none" stroke="#999" stroke-width="0.528" />
<path d="M140.03,373.35 L142.02,369.98" fill="none" stroke="#999" stroke-width="0.528" />
<path d="M142.31,372.93 L144.30,369.56" fill="none" stroke="#999" stroke-width="0.528" />
<path d="M144.60,372.51 L146.58,369.14" fill="none" stroke="#999" stroke-width="0.528" />
<path d="M146.88,372.08 L148.87,368.71" fill="none" stroke="#999" stroke-width="0.528" />
<path d="M149.16,371.66 L151.15,368.29" fill="none" stroke="#999" stroke-width="0.528" />
<path d="M151.44,371.23 L153.43,367.86" fill="none" stroke="#999" stroke-width="0.528" />
<path d="M153.73,370.81 L155.71,367.44" fill="none" stroke="#999" stroke-width="0.528" />
<path d="M156.01,370.38 L158.00,367.02" fill="none" stroke="#999" stroke-width="0.528" />
<path d="M158.29,369.96 L160.28,366.59" fill="none" stroke="#999" stroke-width="0.528" />
<path d="M160.58,369.54 L162.56,366.17" fill="none" stroke="#999" stroke-width="0.528" />
<path d="M162.86,369.11 L164.00,365.90" fill="none" stroke="#999" stroke-width="0.528" />
<path d="M100.60,380.40 L165.20,369.00 L165.20,371.00 L100.60,382.40Z" fill="#2a2a2a" stroke="none" stroke-width="0"/>
<circle cx="101.95" cy="381.16" r="0.6" fill="#e8e8e8"/>
<circle cx="104.64" cy="380.69" r="0.6" fill="#e8e8e8"/>
<circle cx="107.33" cy="380.21" r="0.6" fill="#e8e8e8"/>
<circle cx="110.02" cy="379.74" r="0.6" fill="#e8e8e8"/>
<circle cx="112.71" cy="379.26" r="0.6" fill="#e8e8e8"/>
<circle cx="115.40" cy="378.79" r="0.6" fill="#e8e8e8"/>
<circle cx="118.10" cy="378.31" r="0.6" fill="#e8e8e8"/>
<circle cx="120.79" cy="377.84" r="0.6" fill="#e8e8e8"/>
<circle cx="123.48" cy="377.36" r="0.6" fill="#e8e8e8"/>
<circle cx="126.17" cy="376.89" r="0.6" fill="#e8e8e8"/>
<circle cx="128.86" cy="376.41" r="0.6" fill="#e8e8e8"/>
<circle cx="131.55" cy="375.94" r="0.6" fill="#e8e8e8"/>
<circle cx="134.25" cy="375.46" r="0.6" fill="#e8e8e8"/>
<circle cx="136.94" cy="374.99" r="0.6" fill="#e8e8e8"/>
<circle cx="139.63" cy="374.51" r="0.6" fill="#e8e8e8"/>
<circle cx="142.32" cy="374.04" r="0.6" fill="#e8e8e8"/>
<circle cx="145.01" cy="373.56" r="0.6" fill="#e8e8e8"/>
<circle cx="147.70" cy="373.09" r="0.6" fill="#e8e8e8"/>
<circle cx="150.40" cy="372.61" r="0.6" fill="#e8e8e8"/>
<circle cx="153.09" cy="372.14" r="0.6" fill="#e8e8e8"/>
<circle cx="155.78" cy="371.66" r="0.6" fill="#e8e8e8"/>
<circle cx="158.47" cy="371.19" r="0.6" fill="#e8e8e8"/>
<circle cx="161.16" cy="370.71" r="0.6" fill="#e8e8e8"/>
<circle cx="163.85" cy="370.24" r="0.6" fill="#e8e8e8"/>
<path d="M99.60,379.80 L166.20,368.00 L166.20,372.80 L99.60,384.60 L99.60,379.80" fill="none" stroke="#666" stroke-width="0.528" />
<path d="M97.50,387.40 L168.30,374.90" fill="none" stroke="#999" stroke-width="0.528" />
<path d="M61.84,357.17 A10.6,10.6 0 0 1 56.52,359.29 M53.34,359.15 A10.6,10.6 0 0 1 48.23,356.56 M46.24,354.08 A10.6,10.6 0 0 1 44.80,348.54 M45.34,345.40 A10.6,10.6 0 0 1 48.55,340.66 M51.26,338.99 A10.6,10.6 0 0 1 56.94,338.26 M59.98,339.19 A10.6,10.6 0 0 1 64.28,342.97" fill="none" stroke="#222" stroke-width="1.0"/>
<path d="M159.22,331.00 A12.8,12.8 0 0 1 156.66,336.06 M154.32,338.26 A12.8,12.8 0 0 1 149.11,340.49 M145.91,340.67 A12.8,12.8 0 0 1 140.48,339.03 M134.07,329.24 A12.8,12.8 0 0 1 134.74,323.61 M136.19,320.74 A12.8,12.8 0 0 1 140.32,316.86 M143.27,315.60 A12.8,12.8 0 0 1 148.93,315.28 M152.01,316.21 A12.8,12.8 0 0 1 156.55,319.60 M158.30,322.29 A12.8,12.8 0 0 1 159.60,327.81" fill="none" stroke="#222" stroke-width="1.0"/>
<path d="M189.02,441.37 A43.3,43.3 0 0 1 188.28,447.17 M187.76,449.50 A43.3,43.3 0 0 1 185.93,455.06 M184.97,457.25 A43.3,43.3 0 0 1 182.13,462.36 M180.77,464.33 A43.3,43.3 0 0 1 177.01,468.81 M175.31,470.49 A43.3,43.3 0 0 1 170.77,474.17 M168.78,475.50 A43.3,43.3 0 0 1 163.62,478.26 M161.42,479.18 A43.3,43.3 0 0 1 155.83,480.92 M153.49,481.41 A43.3,43.3 0 0 1 147.68,482.06 M145.29,482.10 A43.3,43.3 0 0 1 139.46,481.63 M137.11,481.22 A43.3,43.3 0 0 1 131.47,479.66 M129.24,478.81 A43.3,43.3 0 0 1 124.00,476.21 M121.96,474.95 A43.3,43.3 0 0 1 117.31,471.41 M115.55,469.78 A43.3,43.3 0 0 1 111.65,465.43 M110.24,463.50 A43.3,43.3 0 0 1 107.23,458.48 M106.20,456.32 A43.3,43.3 0 0 1 104.20,450.83 M103.60,448.51 A43.3,43.3 0 0 1 102.68,442.74 M102.53,440.35 A43.3,43.3 0 0 1 102.71,434.51 M103.02,432.13 A43.3,43.3 0 0 1 104.30,426.43 M105.05,424.16 A43.3,43.3 0 0 1 107.40,418.80 M108.56,416.71 A43.3,43.3 0 0 1 111.87,411.89 M113.41,410.06 A43.3,43.3 0 0 1 117.58,405.96 M119.44,404.45 A43.3,43.3 0 0 1 124.30,401.21 M126.41,400.08 A43.3,43.3 0 0 1 131.81,397.82 M134.09,397.11 A43.3,43.3 0 0 1 139.81,395.92 M142.19,395.65 A43.3,43.3 0 0 1 148.04,395.56 M150.42,395.75 A43.3,43.3 0 0 1 156.18,396.76 M158.49,397.40 A43.3,43.3 0 0 1 163.95,399.49 M166.09,400.55 A43.3,43.3 0 0 1 171.06,403.63 M172.96,405.08 A43.3,43.3 0 0 1 177.26,409.05 M178.85,410.83 A43.3,43.3 0 0 1 182.32,415.54 M183.55,417.59 A43.3,43.3 0 0 1 186.06,422.87 M186.88,425.12 A43.3,43.3 0 0 1 188.35,430.78 M188.73,433.14 A43.3,43.3 0 0 1 189.10,438.98" fill="none" stroke="#222" stroke-width="1.0"/>
<clipPath id="c2"><circle cx="145.8" cy="438.8" r="42.8"/></clipPath><g clip-path="url(#c2)">
<path d="M130.30,408.58 A7.8,3.2 -11.7 1 0 136.26,407.30" fill="none" stroke="#111" stroke-width="1.05"/>
<path d="M133.75,407.48 L136.99,405.71 L137.21,408.78Z" fill="#111" stroke="none" stroke-width="0"/>
<path d="M136.90,420.20 L135.28,415.05" fill="none" stroke="#111" stroke-width="1.1" />
<path d="M134.70,413.21 L132.21,405.31" fill="none" stroke="#111" stroke-width="1.1" />
<path d="M131.10,401.80 L134.10,405.68 L130.86,406.70Z" fill="#111" stroke="none" stroke-width="0"/>
<g transform="translate(133.4,426.2) rotate(-14)" stroke="#666" stroke-width="0.6" fill="#ddd"><path d="M-3.1,0.6 Q-3.1,-1.8 0,-1.8 Q3.1,-1.8 3.1,0.6 Z"/><rect x="-1.5" y="0.6" width="3" height="5.4" fill="#bbb"/><path d="M-1.5,2h3M-1.5,3.4h3M-1.5,4.8h3" fill="none"/></g>
<g transform="translate(143.2,424.0) rotate(-14)" stroke="#666" stroke-width="0.6" fill="#ddd"><path d="M-3.1,0.6 Q-3.1,-1.8 0,-1.8 Q3.1,-1.8 3.1,0.6 Z"/><rect x="-1.5" y="0.6" width="3" height="5.4" fill="#bbb"/><path d="M-1.5,2h3M-1.5,3.4h3M-1.5,4.8h3" fill="none"/></g>
<path d="M102.60,445.20 L136.00,438.00" fill="none" stroke="#505050" stroke-width="0.616" />
<path d="M150.20,434.60 L151.50,434.20" fill="none" stroke="#505050" stroke-width="0.616" />
<path d="M136,438 L150,434.5 L150.5,443.6 L136.5,446.6Z" fill="#fff" stroke="#444" stroke-width="0.7"/>
<circle cx="139.2" cy="441.2" r="1.3" fill="none" stroke="#555" stroke-width="0.6"/><circle cx="146" cy="439.6" r="1.3" fill="none" stroke="#555" stroke-width="0.6"/>
<path d="M136.60,446.60 L137.00,448.60 L144.00,447.40" fill="none" stroke="#555" stroke-width="0.528" />
<circle cx="141" cy="451.2" r="1.1" fill="#333"/>
<path d="M155.6,432.6 L160.6,432.4 L164.2,450.6 L155.4,452Z" fill="#c8c8c8"/>
<path d="M152.9,434 L155.3,433.2 L155.3,452 L152.9,452.4Z" fill="#ddd"/>
<path d="M151.50,434.00 L155.00,433.00 L155.00,451.80" fill="none" stroke="#505050" stroke-width="0.616" />
<path d="M151.50,434.00 L151.50,452.60" fill="none" stroke="#505050" stroke-width="0.616" />
<path d="M155.4,432.6 l4.6,-0.6 l2,2.6 l-6.6,0.8z" fill="#2a2a2a"/>
<circle cx="157.4" cy="438.4" r="1.4" fill="#1a1a1a"/><circle cx="159.6" cy="442.6" r="1.4" fill="#1a1a1a"/><circle cx="161.2" cy="446.2" r="1.4" fill="#1a1a1a"/>
<path d="M155.40,441.00 L161.00,451.00" fill="none" stroke="#555" stroke-width="0.528" />
<path d="M161.25,433.80 L176.25,468.80" fill="none" stroke="#505050" stroke-width="0.616" />
<path d="M161.70,437.20 L164.20,450.60" fill="none" stroke="#444" stroke-width="0.528" />
<path d="M110.60,463.40 L155.00,452.00 L164.00,450.50" fill="none" stroke="#505050" stroke-width="0.616" />
<path d="M118.40,470.80 L153.00,463.50" fill="none" stroke="#505050" stroke-width="0.616" />
<path d="M153.00,463.50 L163.60,452.40" fill="none" stroke="#505050" stroke-width="0.528" />
<path d="M153.00,463.50 L160.20,478.00" fill="none" stroke="#505050" stroke-width="0.528" />
<path d="M160.20,478.00 L174.40,470.40" fill="none" stroke="#505050" stroke-width="0.528" />
<path d="M164.00,450.50 L174.40,470.40" fill="none" stroke="#505050" stroke-width="0.528" />
</g>
<path d="M236.50,373.60 L305.80,395.80 L374.00,365.00" fill="none" stroke="#505050" stroke-width="0.66" />
<path d="M244.50,362.00 L304.20,324.50" fill="none" stroke="#505050" stroke-width="0.616" />
<path d="M244.50,362.00 L247.40,364.80" fill="none" stroke="#505050" stroke-width="0.528" />
<path d="M236.50,373.60 L303.80,330.20" fill="none" stroke="#333" stroke-width="0.704" />
<path d="M242.50,373.60 L305.00,334.20" fill="none" stroke="#505050" stroke-width="0.616" />
<path d="M304.20,324.50 L374.00,365.00" fill="none" stroke="#505050" stroke-width="0.66" />
<path d="M304.60,330.00 L368.00,364.60" fill="none" stroke="#333" stroke-width="0.704" />
<path d="M305.00,334.20 L360.00,362.00" fill="none" stroke="#505050" stroke-width="0.616" />
<path d="M368.00,364.60 L374.00,365.00" fill="none" stroke="#505050" stroke-width="0.528" />
<path d="M240.00,374.20 L305.40,393.60" fill="none" stroke="#777" stroke-width="0.528" />
<path d="M251.00,366.60 L306.40,384.60" fill="none" stroke="#444" stroke-width="0.616" />
<path d="M250.40,368.40 L306.40,386.20" fill="none" stroke="#777" stroke-width="0.528" />
<path d="M306.40,384.40 L306.40,395.40" fill="none" stroke="#505050" stroke-width="0.616" />
<path d="M307.60,383.30 L355.60,360.60" fill="none" stroke="#777" stroke-width="0.528" />
<path d="M307.60,385.50 L355.60,362.80" fill="none" stroke="#888" stroke-width="0.484" />
<path d="M308.64,385.01 L310.08,382.13" fill="none" stroke="#999" stroke-width="0.528" />
<path d="M310.73,384.02 L312.17,381.14" fill="none" stroke="#999" stroke-width="0.528" />
<path d="M312.82,383.03 L314.26,380.15" fill="none" stroke="#999" stroke-width="0.528" />
<path d="M314.90,382.05 L316.34,379.16" fill="none" stroke="#999" stroke-width="0.528" />
<path d="M316.99,381.06 L318.43,378.18" fill="none" stroke="#999" stroke-width="0.528" />
<path d="M319.08,380.07 L320.52,377.19" fill="none" stroke="#999" stroke-width="0.528" />
<path d="M321.17,379.08 L322.61,376.20" fill="none" stroke="#999" stroke-width="0.528" />
<path d="M323.25,378.10 L324.69,375.22" fill="none" stroke="#999" stroke-width="0.528" />
<path d="M325.34,377.11 L326.78,374.23" fill="none" stroke="#999" stroke-width="0.528" />
<path d="M327.43,376.12 L328.87,373.24" fill="none" stroke="#999" stroke-width="0.528" />
<path d="M329.51,375.14 L330.95,372.26" fill="none" stroke="#999" stroke-width="0.528" />
<path d="M331.60,374.15 L333.04,371.27" fill="none" stroke="#999" stroke-width="0.528" />
<path d="M333.69,373.16 L335.13,370.28" fill="none" stroke="#999" stroke-width="0.528" />
<path d="M335.77,372.18 L337.21,369.30" fill="none" stroke="#999" stroke-width="0.528" />
<path d="M337.86,371.19 L339.30,368.31" fill="none" stroke="#999" stroke-width="0.528" />
<path d="M339.95,370.20 L341.39,367.32" fill="none" stroke="#999" stroke-width="0.528" />
<path d="M342.03,369.22 L343.47,366.33" fill="none" stroke="#999" stroke-width="0.528" />
<path d="M344.12,368.23 L345.56,365.35" fill="none" stroke="#999" stroke-width="0.528" />
<path d="M346.21,367.24 L347.65,364.36" fill="none" stroke="#999" stroke-width="0.528" />
<path d="M348.30,366.25 L349.74,363.37" fill="none" stroke="#999" stroke-width="0.528" />
<path d="M350.38,365.27 L351.82,362.39" fill="none" stroke="#999" stroke-width="0.528" />
<path d="M352.47,364.28 L353.91,361.40" fill="none" stroke="#999" stroke-width="0.528" />
<path d="M354.56,363.29 L355.60,360.60" fill="none" stroke="#999" stroke-width="0.528" />
<path d="M310.00,385.90 L360.30,362.00 L360.30,364.00 L310.00,387.90Z" fill="#2a2a2a" stroke="none" stroke-width="0"/>
<circle cx="311.32" cy="386.27" r="0.6" fill="#e8e8e8"/>
<circle cx="313.97" cy="385.01" r="0.6" fill="#e8e8e8"/>
<circle cx="316.62" cy="383.76" r="0.6" fill="#e8e8e8"/>
<circle cx="319.27" cy="382.50" r="0.6" fill="#e8e8e8"/>
<circle cx="321.91" cy="381.24" r="0.6" fill="#e8e8e8"/>
<circle cx="324.56" cy="379.98" r="0.6" fill="#e8e8e8"/>
<circle cx="327.21" cy="378.72" r="0.6" fill="#e8e8e8"/>
<circle cx="329.86" cy="377.47" r="0.6" fill="#e8e8e8"/>
<circle cx="332.50" cy="376.21" r="0.6" fill="#e8e8e8"/>
<circle cx="335.15" cy="374.95" r="0.6" fill="#e8e8e8"/>
<circle cx="337.80" cy="373.69" r="0.6" fill="#e8e8e8"/>
<circle cx="340.44" cy="372.43" r="0.6" fill="#e8e8e8"/>
<circle cx="343.09" cy="371.18" r="0.6" fill="#e8e8e8"/>
<circle cx="345.74" cy="369.92" r="0.6" fill="#e8e8e8"/>
<circle cx="348.39" cy="368.66" r="0.6" fill="#e8e8e8"/>
<circle cx="351.03" cy="367.40" r="0.6" fill="#e8e8e8"/>
<circle cx="353.68" cy="366.14" r="0.6" fill="#e8e8e8"/>
<circle cx="356.33" cy="364.89" r="0.6" fill="#e8e8e8"/>
<circle cx="358.98" cy="363.63" r="0.6" fill="#e8e8e8"/>
<path d="M309.00,385.30 L361.30,361.00 L361.30,365.80 L309.00,390.10 L309.00,385.30" fill="none" stroke="#666" stroke-width="0.528" />
<path d="M308.30,390.20 L364.00,365.40" fill="none" stroke="#888" stroke-width="0.528" />
<path d="M307.40,392.60 L369.00,365.20" fill="none" stroke="#999" stroke-width="0.528" />
<path d="M301,326.6 l3.2,-2.4 l4.6,2.2 l0.6,2.8 l-2.6,1.6 l-4.6,-1.6z" fill="#444"/>
<circle cx="303.6" cy="327.2" r="0.7" fill="#ddd"/><circle cx="306.6" cy="328.6" r="0.7" fill="#ddd"/>
<circle cx="309.3" cy="322.4" r="0.8" fill="#222"/><circle cx="311.7" cy="323.9" r="0.8" fill="#222"/>
<path d="M238.6,367 l3.2,-2.2 l1.6,1.8 l-3,2.4z" fill="none" stroke="#333" stroke-width="0.7"/>
<circle cx="234.5" cy="376.4" r="0.8" fill="#222"/><circle cx="237" cy="377.4" r="0.8" fill="#222"/>
<path d="M296.70,335.80 L299.20,338.80" fill="none" stroke="#444" stroke-width="0.528" />
<path d="M312.60,339.40 L316.60,336.60" fill="none" stroke="#444" stroke-width="0.528" />
<path d="M250.23,375.80 A11.1,11.1 0 0 1 247.11,380.35 M244.49,382.06 A11.1,11.1 0 0 1 239.06,383.08 M236.00,382.43 A11.1,11.1 0 0 1 231.45,379.31 M229.74,376.69 A11.1,11.1 0 0 1 228.72,371.26 M229.37,368.20 A11.1,11.1 0 0 1 232.49,363.65 M235.11,361.94 A11.1,11.1 0 0 1 240.54,360.92 M243.60,361.57 A11.1,11.1 0 0 1 248.15,364.69 M249.86,367.31 A11.1,11.1 0 0 1 250.88,372.74" fill="none" stroke="#222" stroke-width="1.0"/>
<path d="M319.46,332.01 A12.8,12.8 0 0 1 316.82,337.03 M314.44,339.19 A12.8,12.8 0 0 1 309.19,341.33 M305.98,341.45 A12.8,12.8 0 0 1 300.58,339.72 M298.05,337.75 A12.8,12.8 0 0 1 295.03,332.95 M294.35,329.82 A12.8,12.8 0 0 1 295.12,324.20 M296.61,321.36 A12.8,12.8 0 0 1 300.82,317.55 M303.79,316.34 A12.8,12.8 0 0 1 309.45,316.12 M312.51,317.10 A12.8,12.8 0 0 1 316.99,320.58 M318.70,323.29 A12.8,12.8 0 0 1 319.90,328.83" fill="none" stroke="#222" stroke-width="1.0"/>
<path d="M373.77,446.69 A43.3,43.3 0 0 1 372.18,452.79 M370.95,455.97 A43.3,43.3 0 0 1 368.03,461.56 M366.14,464.38 A43.3,43.3 0 0 1 362.05,469.19 M359.57,471.51 A43.3,43.3 0 0 1 354.51,475.29 M351.58,477.01 A43.3,43.3 0 0 1 345.81,479.56 M342.56,480.58 A43.3,43.3 0 0 1 336.37,481.79 M332.98,482.06 A43.3,43.3 0 0 1 326.67,481.86 M323.31,481.37 A43.3,43.3 0 0 1 317.21,479.78 M314.03,478.55 A43.3,43.3 0 0 1 308.44,475.63 M305.62,473.74 A43.3,43.3 0 0 1 300.81,469.65 M298.49,467.17 A43.3,43.3 0 0 1 294.71,462.11 M292.99,459.18 A43.3,43.3 0 0 1 290.44,453.41 M289.42,450.16 A43.3,43.3 0 0 1 288.21,443.97 M287.94,440.58 A43.3,43.3 0 0 1 288.14,434.27 M288.63,430.91 A43.3,43.3 0 0 1 290.22,424.81 M291.45,421.63 A43.3,43.3 0 0 1 294.37,416.04 M296.26,413.22 A43.3,43.3 0 0 1 300.35,408.41 M302.83,406.09 A43.3,43.3 0 0 1 307.89,402.31 M310.82,400.59 A43.3,43.3 0 0 1 316.59,398.04 M319.84,397.02 A43.3,43.3 0 0 1 326.03,395.81 M329.42,395.54 A43.3,43.3 0 0 1 335.73,395.74 M339.09,396.23 A43.3,43.3 0 0 1 345.19,397.82 M348.37,399.05 A43.3,43.3 0 0 1 353.96,401.97 M356.78,403.86 A43.3,43.3 0 0 1 361.59,407.95 M363.91,410.43 A43.3,43.3 0 0 1 367.69,415.49 M369.41,418.42 A43.3,43.3 0 0 1 371.96,424.19 M372.98,427.44 A43.3,43.3 0 0 1 374.19,433.63 M374.46,437.02 A43.3,43.3 0 0 1 374.26,443.33" fill="none" stroke="#222" stroke-width="1.0"/>
<clipPath id="c4"><circle cx="331.2" cy="438.8" r="42.8"/></clipPath><g clip-path="url(#c4)">
<path d="M355.54,413.50 A7.5,3.6 46 1 0 361.35,420.44" fill="none" stroke="#111" stroke-width="1.05"/>
<path d="M360.46,418.09 L363.08,420.69 L360.20,421.77Z" fill="#111" stroke="none" stroke-width="0"/>
<path d="M349.30,423.70 L359.11,414.96" fill="none" stroke="#111" stroke-width="1.1" />
<path d="M362.10,412.30 L359.56,416.97 L357.17,414.28Z" fill="#111" stroke="none" stroke-width="0"/>
<g transform="translate(343.0,424.4) rotate(42)" stroke="#666" stroke-width="0.6" fill="#ddd"><path d="M-3.1,0.6 Q-3.1,-1.8 0,-1.8 Q3.1,-1.8 3.1,0.6 Z"/><rect x="-1.5" y="0.6" width="3" height="5.4" fill="#bbb"/><path d="M-1.5,2h3M-1.5,3.4h3M-1.5,4.8h3" fill="none"/></g>
<g transform="translate(350.9,428.8) rotate(42)" stroke="#666" stroke-width="0.6" fill="#ddd"><path d="M-3.1,0.6 Q-3.1,-1.8 0,-1.8 Q3.1,-1.8 3.1,0.6 Z"/><rect x="-1.5" y="0.6" width="3" height="5.4" fill="#bbb"/><path d="M-1.5,2h3M-1.5,3.4h3M-1.5,4.8h3" fill="none"/></g>
<path d="M321.50,429.50 L290.00,450.20" fill="none" stroke="#505050" stroke-width="0.616" />
<path d="M320.60,429.80 L320.60,448.80" fill="none" stroke="#505050" stroke-width="0.528" />
<path d="M322.60,430.00 L322.60,448.60" fill="none" stroke="#505050" stroke-width="0.528" />
<path d="M323.00,449.00 L323.40,462.60" fill="none" stroke="#505050" stroke-width="0.528" />
<path d="M308,441 L319.6,435 L320,445 L308.5,451Z" fill="#fff" stroke="#444" stroke-width="0.7"/>
<circle cx="310.2" cy="444.2" r="1.5" fill="none" stroke="#555" stroke-width="0.6"/><circle cx="315" cy="441.6" r="1.5" fill="none" stroke="#555" stroke-width="0.6"/>
<rect x="312.4" y="451.4" width="1.4" height="2.4" fill="#222"/>
<path d="M296.40,464.40 L322.60,448.40" fill="none" stroke="#222" stroke-width="1.1" />
<path d="M306.40,472.20 L323.40,462.60" fill="none" stroke="#505050" stroke-width="0.616" />
<path d="M324.00,430.60 L372.60,456.40" fill="none" stroke="#505050" stroke-width="0.616" />
<path d="M326,434.4 L337.4,440.4 L337,447.6 L325.6,441.6Z" fill="#fff" stroke="#444" stroke-width="0.7"/>
<circle cx="329" cy="440" r="1.2" fill="#222"/><circle cx="334" cy="442.6" r="1.2" fill="#222"/>
<path d="M339.6,441.6 L345,444.4 L345,451.4 L339.6,448.8Z" fill="none" stroke="#444" stroke-width="0.7"/>
<path d="M322.60,448.40 L366.60,469.20" fill="none" stroke="#222" stroke-width="1.2" />
<rect x="329" y="450.6" width="1.6" height="2" fill="#222"/><rect x="332.6" y="452.2" width="1.6" height="2" fill="#222"/><circle cx="343" cy="457.2" r="1.1" fill="#222"/>
<path d="M323.40,462.60 L355.40,478.20" fill="none" stroke="#505050" stroke-width="0.616" />
</g>
<path d="M434.20,394.20 L410.30,378.30 L511.70,333.30 L565.00,391.20" fill="none" stroke="#505050" stroke-width="0.616" />
<path d="M412.40,377.80 L436.00,393.40" fill="none" stroke="#666" stroke-width="0.528" />
<path d="M560.4,385.2 L565.2,391.4 L561.4,391.2Z" fill="#333"/>
<path d="M418.30,400.40 L508.60,365.00" fill="none" stroke="#505050" stroke-width="0.616" />
<path d="M410.30,421.90 L521.30,382.00" fill="none" stroke="#222" stroke-width="0.95" />
<path d="M521.30,382.00 L565.30,393.30" fill="none" stroke="#222" stroke-width="0.95" />
<path d="M516.70,364.00 L552.20,376.90" fill="none" stroke="#505050" stroke-width="0.616" />
<path d="M565.30,393.30 L569.30,394.00" fill="none" stroke="#505050" stroke-width="0.528" />
<path d="M410.30,421.90 L478.20,424.10 L569.30,394.00" fill="none" stroke="#505050" stroke-width="0.66" />
<rect x="412.4" y="399.6" width="5.8" height="15.4" rx="1.6" fill="#fff" stroke="#444" stroke-width="0.7"/>
<path d="M413.4,399.8 q1.6,-2 4,-0.6" fill="none" stroke="#444" stroke-width="0.7"/>
<path d="M413.6,411.6h3.6v1.6h-3.6z" fill="#555"/><path d="M414,415 v2.6 M416.8,415 v2.2" stroke="#444" stroke-width="0.7"/>
<path d="M508,365.3 L509.3,363 Q511.7,359.6 514.7,362.7 L517,378 L511,379.5Z" fill="#fff" stroke="#444" stroke-width="0.65"/>
<path d="M509.6,363.4 Q511.8,361.6 514.4,363.2" fill="none" stroke="#555" stroke-width="0.5"/>
<path d="M516.2,369.2 L519,370 L521.7,377 L521.4,381.6 L517.8,381.6Z" fill="#aaa" stroke="#444" stroke-width="0.6"/>
<path d="M518.3,371 L519.7,380.4" stroke="#222" stroke-width="1.1"/>
<path d="M510.6,376h1.7v1.4h-1.7zM513.2,375.4h1.7v1.4h-1.7z" fill="#333"/><path d="M512,379.4 l1,1.4" stroke="#444" stroke-width="0.6"/>
<path d="M447.20,409.80 L477.60,413.40" fill="none" stroke="#555" stroke-width="0.528" />
<path d="M418.00,419.40 L477.80,420.20" fill="none" stroke="#999" stroke-width="0.44" />
<path d="M477.90,412.60 L478.10,424.00" fill="none" stroke="#505050" stroke-width="0.616" />
<path d="M422.30,417.20 L521.60,383.90" fill="none" stroke="#555" stroke-width="0.528" />
<path d="M521.60,383.90 L549.60,391.00" fill="none" stroke="#444" stroke-width="0.616" />
<path d="M483.00,412.20 L548.00,391.40 L548.00,393.60 L483.00,414.40Z" fill="#2a2a2a" stroke="none" stroke-width="0"/>
<circle cx="484.48" cy="412.83" r="0.6" fill="#e8e8e8"/>
<circle cx="487.43" cy="411.88" r="0.6" fill="#e8e8e8"/>
<circle cx="490.39" cy="410.94" r="0.6" fill="#e8e8e8"/>
<circle cx="493.34" cy="409.99" r="0.6" fill="#e8e8e8"/>
<circle cx="496.30" cy="409.05" r="0.6" fill="#e8e8e8"/>
<circle cx="499.25" cy="408.10" r="0.6" fill="#e8e8e8"/>
<circle cx="502.20" cy="407.15" r="0.6" fill="#e8e8e8"/>
<circle cx="505.16" cy="406.21" r="0.6" fill="#e8e8e8"/>
<circle cx="508.11" cy="405.26" r="0.6" fill="#e8e8e8"/>
<circle cx="511.07" cy="404.32" r="0.6" fill="#e8e8e8"/>
<circle cx="514.02" cy="403.37" r="0.6" fill="#e8e8e8"/>
<circle cx="516.98" cy="402.43" r="0.6" fill="#e8e8e8"/>
<circle cx="519.93" cy="401.48" r="0.6" fill="#e8e8e8"/>
<circle cx="522.89" cy="400.54" r="0.6" fill="#e8e8e8"/>
<circle cx="525.84" cy="399.59" r="0.6" fill="#e8e8e8"/>
<circle cx="528.80" cy="398.65" r="0.6" fill="#e8e8e8"/>
<circle cx="531.75" cy="397.70" r="0.6" fill="#e8e8e8"/>
<circle cx="534.70" cy="396.75" r="0.6" fill="#e8e8e8"/>
<circle cx="537.66" cy="395.81" r="0.6" fill="#e8e8e8"/>
<circle cx="540.61" cy="394.86" r="0.6" fill="#e8e8e8"/>
<circle cx="543.57" cy="393.92" r="0.6" fill="#e8e8e8"/>
<circle cx="546.52" cy="392.97" r="0.6" fill="#e8e8e8"/>
<path d="M482.00,411.60 L549.00,390.40 L549.00,395.40 L482.00,416.60 L482.00,411.60" fill="none" stroke="#666" stroke-width="0.528" />
<path d="M484.60,419.20 L556.00,394.40" fill="none" stroke="#888" stroke-width="0.528" />
<path d="M480.60,421.60 L562.00,394.40" fill="none" stroke="#999" stroke-width="0.528" />
<path d="M491.0,428.4 L495.3,443.2" stroke="#000" stroke-width="2.5" fill="none"/>
<path d="M498.6,455.2 L491.2,444.6 L499.2,442.2Z" fill="#000"/>
<circle cx="461" cy="398.6" r="0.5" fill="#333"/><circle cx="550.6" cy="384.6" r="0.4" fill="#555"/>
</svg></body></html>
